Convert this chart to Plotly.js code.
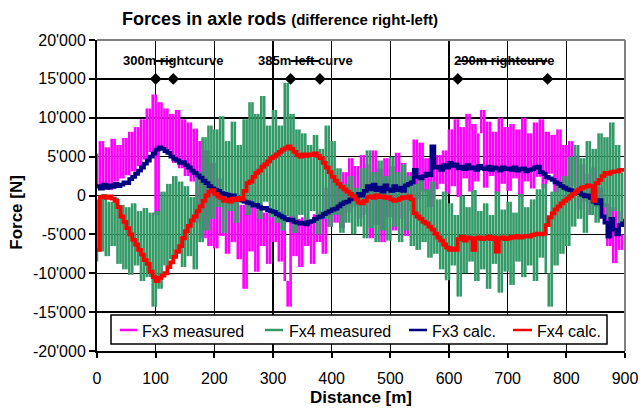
<!DOCTYPE html>
<html><head><meta charset="utf-8">
<script src="https://cdn.plot.ly/plotly-3.0.1.min.js"></script>
<style>html,body{margin:0;padding:0;background:#fff}</style>
</head><body>
<div id="chart" style="width:643px;height:408px"></div>
<script>
// Distance along the track [m]
const distance = [0,5,10,15,20,25,30,35,40,45,50,55,60,65,70,75,80,85,90,95,
100,105,110,115,120,125,130,135,140,145,150,155,160,165,170,175,180,185,190,195,
200,205,210,215,220,225,230,235,240,245,250,255,260,265,270,275,280,285,290,295,
300,305,310,315,320,325,330,335,340,345,350,355,360,365,370,375,380,385,390,395,
400,405,410,415,420,425,430,435,440,445,450,455,460,465,470,475,480,485,490,495,
500,505,510,515,520,525,530,535,540,545,550,555,560,565,570,575,580,585,590,595,
600,605,610,615,620,625,630,635,640,645,650,655,660,665,670,675,680,685,690,695,
700,705,710,715,720,725,730,735,740,745,750,755,760,765,770,775,780,785,790,795,
800,805,810,815,820,825,830,835,840,845,850,855,860,865,870,875,880,885,890,895,900];

// Force difference right-left [N]
const fx3Measured = [5400,900,7000,1300,6200,700,7300,1800,6500,2200,
7400,2600,8200,3100,8800,3800,9800,4600,11200,5600,
13000,-2500,12000,6200,11200,5800,10500,4200,11000,3500,
9800,2500,9400,1800,8600,-3500,7000,-5500,5800,-6500,
4200,-6800,2200,-5200,500,-7500,-200,-6000,-800,-8200,
-1200,-12000,-600,-7200,-1500,-9800,-1000,-6500,-2200,-8800,
-1800,-6000,-2400,-8500,-2000,-11000,-14300,-2600,-7800,-3000,
-9200,-2800,-6500,-3500,-8800,-2400,-6000,-2000,-7500,1000,
-4000,2500,-3500,1500,-4200,3000,-2200,4800,-1500,3800,
-3000,5200,-2500,4000,-5500,5800,-3800,3500,-6000,4800,
-2800,3800,-4500,5500,-3000,4200,-5200,3000,-2000,7200,
-500,6800,500,4800,-1500,6000,800,5200,1500,5800,
200,8500,1200,9800,-200,8800,2200,10500,500,9200,
1800,8000,11000,1000,9500,2500,8200,300,10000,1500,
8800,600,9200,2200,8500,-200,10000,1800,8000,900,
9400,2400,9800,1000,8200,2800,7800,400,8500,1600,
6500,-500,7000,1200,5200,-1800,4000,-800,2800,-2500,
3600,-1500,1000,-3000,-1000,-6500,-1500,-8700,-2000,-7000,-5000];

const fx4Measured = [-8500,-500,-7200,200,-7800,-800,-6500,-300,-8800,-1200,
-9500,-1500,-10200,-1000,-9000,-2000,-11000,-1600,-10500,-2200,
-14300,-2000,-12000,500,-9000,1500,-8200,2500,-7500,1800,
-9200,1200,-7800,-200,-9500,3000,-6000,7500,-4500,9000,
-3000,8500,-1500,10200,-4800,7000,-2000,9500,-3500,6500,
-1000,9800,-2500,12000,-1500,10500,-3000,12800,-800,9000,
-2800,11000,-3500,9000,-4500,14500,-2700,10500,-4800,8500,
-2500,8000,-3800,6500,-2000,7800,-5000,6000,-3000,9000,
-4000,7000,-2500,3500,-4800,1500,-3500,2500,-5000,1000,
-4000,3500,-5500,5800,-4200,3000,-6000,4500,-4500,2500,
-5800,5000,-4000,3000,-6000,4000,-4500,2500,-6500,1500,
-7000,2200,-6000,800,-8000,1800,-7500,-500,-9500,500,
-10900,-1000,-9000,-2500,-13000,0,-10000,-1500,-8500,700,
-11000,-2000,-9500,-1000,-12000,-2500,-8800,500,-12500,-1800,
-9800,-800,-11500,-2200,-8500,200,-10500,-1500,-9000,-500,
-11000,800,-8000,1500,-10000,-14300,500,-9000,1800,-7500,
2500,-6500,5000,-4000,6500,-3000,4800,-4800,7000,-2500,
6000,-3500,8000,-1500,7500,-3000,9400,-2000,6500,-4000,3000];

const fx3Calc = [1200,900,1400,1000,1300,1100,1500,1200,1400,1700,
1600,2100,2400,2800,3200,3600,4100,4500,5000,5400,
5900,6200,6000,5700,5500,5000,4700,4500,4200,4300,
3900,3600,3200,2900,2600,2300,1900,1600,1200,900,
700,600,300,200,100,-100,0,-300,-500,-600,
-800,-900,-1000,-1300,-1200,-1500,-1700,-1600,-1900,-2000,
-2100,-2400,-2600,-2800,-3000,-3200,-3100,-3400,-3500,-3600,
-3500,-3700,-3400,-3300,-3000,-2800,-2700,-2400,-2200,-2000,
-1800,-1700,-1400,-1100,-900,-800,-500,-300,-100,200,
0,600,1200,800,1400,700,1000,500,1300,800,
600,1200,700,1000,600,1300,1500,1700,3300,2400,
2200,2500,2800,2600,6300,3600,3700,3300,3900,3600,
4200,3800,4000,3500,3700,3400,3900,3500,3600,3300,
3800,3500,3400,3700,3300,3600,3500,3200,3600,3400,
3500,3300,3600,3200,3400,3500,3100,3300,3400,3600,
3700,3000,2800,2400,2200,2000,1700,1500,1200,1000,
800,700,500,300,400,100,-100,0,-300,-800,
-1000,-600,-2700,-3500,-5300,-3000,-4400,-5000,-3800,-3600,-3000];

const fx4Calc = [-7000,-200,-100,-300,-100,-400,-700,-1500,-2700,-3400,
-4200,-5000,-5700,-6300,-7000,-7600,-8300,-8800,-9800,-10500,
-11000,-10600,-10300,-10000,-9200,-8600,-7900,-7200,-6500,-5500,
-4600,-3900,-3200,-2700,-2000,-1400,-700,0,500,700,
200,-100,-300,-700,-500,-800,-400,-600,-300,-500,
600,1600,1800,2400,2900,3200,3700,4000,4400,4800,
5000,5300,5600,5900,6100,6300,6000,5600,5200,5000,
5300,5100,5300,5200,5400,5100,4800,4200,3600,3000,
2400,1900,1500,1100,800,500,200,-100,-500,-900,
-1000,-700,-200,-100,-300,0,-200,-100,-300,-200,
-500,-700,-600,-400,-200,-300,-100,-500,-2300,-2700,
-3000,-3400,-3600,-4000,-4400,-4900,-5400,-5800,-6300,-6700,
-7000,-6800,-7000,-5600,-5300,-5800,-5400,-5500,-7000,-5500,
-5400,-5600,-5500,-5300,-5600,-5400,-7200,-5500,-5400,-5600,
-5500,-5300,-5400,-5200,-5400,-5300,-5200,-5300,-5100,-5000,
-4900,-5000,-4900,-3800,-2800,-2300,-1800,-1400,-1000,-700,
-400,-100,200,500,800,1000,1100,1300,1200,-700,
1600,2000,2500,2900,2800,3000,3100,3100,3300,3300,3300];

// Curves along the route
const curveLabels = ["300m rightcurve", "385m left curve", "290m rightcurve"];
const curveStart = [100, 330, 615];
const curveEnd = [130, 380, 768];
const curveMarkerLevel = 15000;
const curveLineLevel = 17300;

// Axis ticks
const yTickVals = [-20000,-15000,-10000,-5000,0,5000,10000,15000,20000];
const yTickText = ["-20'000","-15'000","-10'000","-5'000","0","5'000","10'000","15'000","20'000"];
const xTickVals = [0,100,200,300,400,500,600,700,800,900];

const FONT = "Liberation Sans, Arial, sans-serif";

// Dense measured signals are rendered the way a dense trace looks on screen:
// each sample step is a vertical stroke from one reading to the next.
function strokes(xs, ys) {
  const sx = [], sy = [];
  for (let i = 0; i < xs.length - 1; i++) {
    sx.push(xs[i], xs[i], null);
    sy.push(ys[i], ys[i + 1], null);
  }
  return {x: sx, y: sy};
}
const s3 = strokes(distance, fx3Measured);
const s4 = strokes(distance, fx4Measured);

const traces = [
  {x: s3.x, y: s3.y, name: "Fx3 measured", type: "scatter", mode: "lines", connectgaps: false,
   line: {color: "#FF00FF", width: 2.6}},
  {x: s4.x, y: s4.y, name: "Fx4 measured", type: "scatter", mode: "lines", connectgaps: false,
   line: {color: "#339966", width: 2.6}},
  {x: distance, y: fx3Calc, name: "Fx3 calc.", type: "scatter", mode: "lines",
   line: {color: "#000080", width: 3.8, shape: "hv"}},
  {x: distance, y: fx4Calc, name: "Fx4 calc.", type: "scatter", mode: "lines",
   line: {color: "#FF0000", width: 3.8, shape: "hv"}}
];
const seriesCount = traces.length;

// curve markers (diamonds) and strike lines
const mx = [], my = [];
for (let i = 0; i < curveStart.length; i++) {
  mx.push(curveStart[i], curveEnd[i]);
  my.push(curveMarkerLevel, curveMarkerLevel);
  traces.push({x: [curveStart[i], curveEnd[i]], y: [curveLineLevel, curveLineLevel],
    type: "scatter", mode: "lines", line: {color: "#000", width: 2},
    showlegend: false, hoverinfo: "skip"});
}
traces.push({x: mx, y: my, type: "scatter", mode: "markers",
  marker: {symbol: "diamond", color: "#000", size: 9}, showlegend: false, hoverinfo: "skip"});

const annotations = curveLabels.map((t, i) => ({
  x: (curveStart[i] + curveEnd[i]) / 2 + [15, 0, 1.5][i],
  y: curveLineLevel, xref: "x", yref: "y", text: "<b>" + t + "</b>", showarrow: false,
  font: {family: FONT, size: 13, color: "#000"}, xanchor: "center", yanchor: "middle"
}));
annotations.push({
  text: "<b>Force [N]</b>", textangle: -90, showarrow: false,
  xref: "paper", yref: "paper", x: -0.152, y: 0.447, xanchor: "center", yanchor: "middle",
  font: {family: FONT, size: 17, color: "#000"}
});

// Hand-drawn legend (pixel layout converted to paper coordinates)
const PX = p => (p - 97) / 528, PY = p => (351 - p) / 311;
const shapes = [
  {type: "line", xref: "paper", yref: "paper", x0: 0, x1: 1, y0: 1, y1: 1, line: {color: "#808080", width: 2}},
  {type: "line", xref: "paper", yref: "paper", x0: 1, x1: 1, y0: 0, y1: 1, line: {color: "#808080", width: 2}},
  {type: "rect", xref: "paper", yref: "paper", x0: PX(111), x1: PX(607), y0: PY(344), y1: PY(315),
   fillcolor: "#fff", line: {color: "#000", width: 1.5}, layer: "above"}
];
const legSym = [[120, 137], [265, 283], [409, 427], [513, 532]];
const legTxt = [140, 286.5, 430, 535];
for (let i = 0; i < seriesCount; i++) {
  shapes.push({type: "line", xref: "paper", yref: "paper", x0: PX(legSym[i][0]), x1: PX(legSym[i][1]),
    y0: PY(330), y1: PY(330), line: {color: traces[i].line.color, width: 2.5}, layer: "above"});
  annotations.push({text: traces[i].name, xref: "paper", yref: "paper", x: PX(legTxt[i]), y: PY(331.5),
    xanchor: "left", yanchor: "middle", showarrow: false, font: {family: FONT, size: 16, color: "#000"}});
}

const layout = {
  width: 643, height: 408,
  margin: {l: 97, r: 18, t: 40, b: 57},
  paper_bgcolor: "#fff", plot_bgcolor: "#fff",
  font: {family: FONT, size: 16, color: "#000"},
  title: {
    text: "<b>Forces in axle rods</b> <b><span style='font-size:15px'>(difference right-left)</span></b>",
    font: {family: FONT, size: 18, color: "#000"},
    x: 280 / 643, xanchor: "center", xref: "container",
    y: 1 - 19 / 408, yanchor: "middle", yref: "container"
  },
  xaxis: {
    range: [0, 900], tickvals: xTickVals, ticks: "outside", ticklen: 5, tickwidth: 2, tickcolor: "#000",
    ticklabelstandoff: 7,
    showline: true, linecolor: "#000", linewidth: 2,
    showgrid: true, gridcolor: "#000", gridwidth: 1.5, zeroline: false,
    tickfont: {family: FONT, size: 16, color: "#000"},
    title: {text: "<b>Distance [m]</b>", font: {family: FONT, size: 17, color: "#000"}, standoff: 5},
    fixedrange: true
  },
  yaxis: {
    range: [-20000, 20000], tickvals: yTickVals, ticktext: yTickText,
    ticks: "outside", ticklen: 6, tickwidth: 2, tickcolor: "#000",
    showline: true, linecolor: "#000", linewidth: 2,
    showgrid: true, gridcolor: "#000", gridwidth: 1.5, zeroline: false,
    tickfont: {family: FONT, size: 16, color: "#000"},
    fixedrange: true
  },
  shapes: shapes,
  showlegend: false,
  annotations: annotations
};

Plotly.newPlot("chart", traces, layout, {displayModeBar: false, staticPlot: true});
</script>
</body></html>
